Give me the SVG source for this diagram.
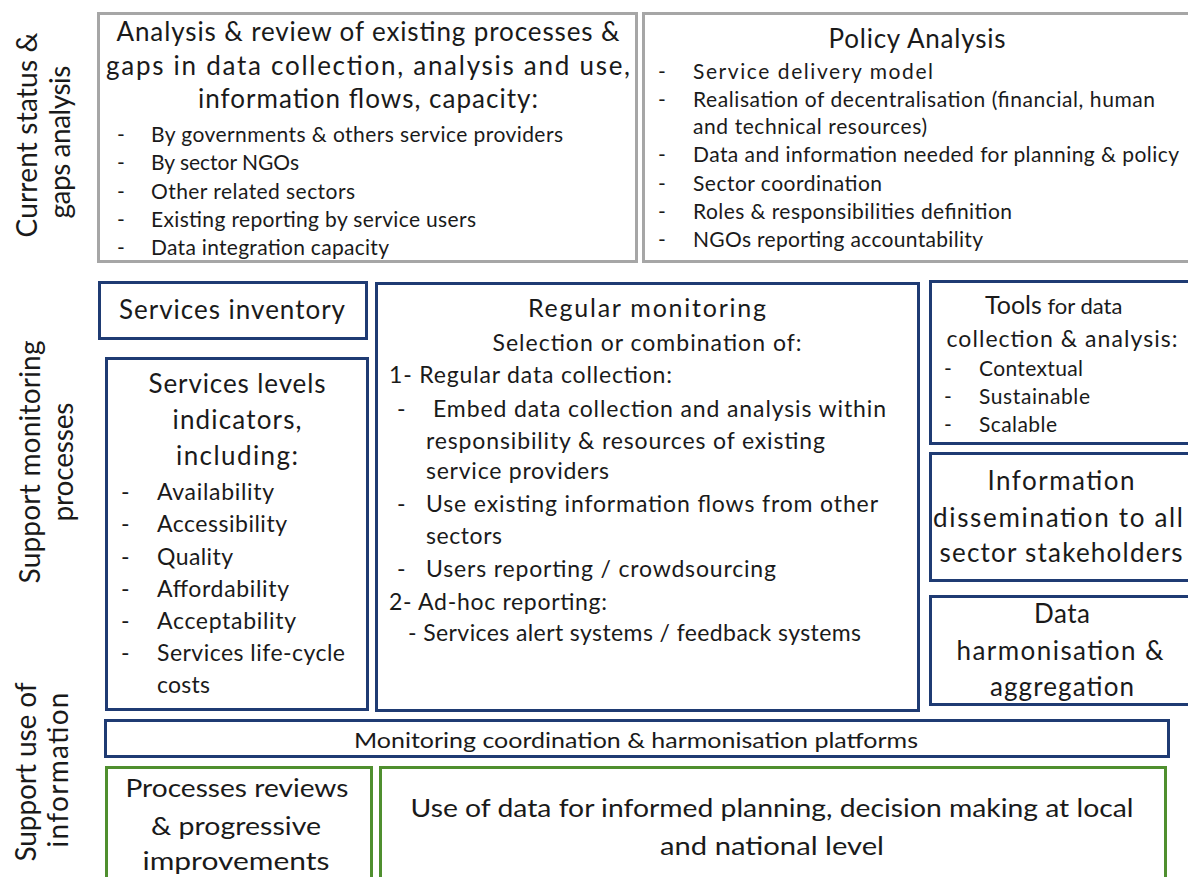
<svg xmlns="http://www.w3.org/2000/svg" width="1188" height="877" viewBox="0 0 1188 877">
<style>
text{font-family:Lato,"Liberation Sans",sans-serif;fill:#1a1a1a}
.gray{fill:#fff;stroke:#a6a6a6;stroke-width:3}
.navy{fill:#fff;stroke:#1f3b73;stroke-width:3}
.green{fill:#fff;stroke:#4f8f2f;stroke-width:3}
.c{text-anchor:middle}
.t28{font-size:28px}
.t26{font-size:26px}
.t25{font-size:25px}
.t24{font-size:24px}
.t23{font-size:23px}
.t22{font-size:22px}
.t21{font-size:21px}
</style>
<rect width="1188" height="877" fill="#fff"/>

<g id="row-labels" class="t28">
<text class="c" transform="translate(37,135) rotate(-90)" textLength="205">Current status &amp;</text>
<text class="c" transform="translate(70,142) rotate(-90)" textLength="153">gaps analysis</text>
<text class="c" transform="translate(40,462) rotate(-90)" textLength="243">Support monitoring</text>
<text class="c" transform="translate(73,462) rotate(-90)" textLength="119">processes</text>
<text class="c" transform="translate(36,772) rotate(-90)" textLength="179">Support use of</text>
<text class="c" transform="translate(68,770) rotate(-90)" textLength="155">information</text>
</g>

<g id="gaps-analysis">
<rect class="gray" x="98.5" y="13.5" width="538" height="248"/>
<text class="c t26" x="368" y="41" textLength="503">Analysis &amp; review of existing processes &amp;</text>
<text class="c t26" x="368" y="75" textLength="524">gaps in data collection, analysis and use,</text>
<text class="c t26" x="368" y="108" textLength="340">information flows, capacity:</text>
<g class="t21">
<text x="117" y="142">-</text><text x="151" y="142" textLength="412">By governments &amp; others service providers</text>
<text x="117" y="170">-</text><text x="151" y="170" textLength="148">By sector NGOs</text>
<text x="117" y="199">-</text><text x="151" y="199" textLength="204">Other related sectors</text>
<text x="117" y="227">-</text><text x="151" y="227" textLength="325">Existing reporting by service users</text>
<text x="117" y="255">-</text><text x="151" y="255" textLength="238">Data integration capacity</text>
</g>
</g>

<g id="policy-analysis">
<rect class="gray" x="643.5" y="13.5" width="550" height="248"/>
<text class="c t26" x="917" y="48" textLength="177">Policy Analysis</text>
<g class="t21">
<text x="658" y="79">-</text><text x="693" y="79" textLength="240">Service delivery model</text>
<text x="658" y="107">-</text><text x="693" y="107" textLength="462">Realisation of decentralisation (financial, human</text>
<text x="693" y="134" textLength="234">and technical resources)</text>
<text x="658" y="162">-</text><text x="693" y="162" textLength="486">Data and information needed for planning &amp; policy</text>
<text x="658" y="191">-</text><text x="693" y="191" textLength="189">Sector coordination</text>
<text x="658" y="219">-</text><text x="693" y="219" textLength="319">Roles &amp; responsibilities definition</text>
<text x="658" y="247">-</text><text x="693" y="247" textLength="290">NGOs reporting accountability</text>
</g>
</g>

<g id="services-inventory">
<rect class="navy" x="99.5" y="282.5" width="267" height="56"/>
<text class="c t26" x="232" y="319" textLength="226">Services inventory</text>
</g>

<g id="services-levels">
<rect class="navy" x="106.5" y="358.5" width="261" height="351"/>
<text class="c t26" x="237" y="393" textLength="177">Services levels</text>
<text class="c t26" x="237" y="429" textLength="129">indicators,</text>
<text class="c t26" x="237" y="465" textLength="122">including:</text>
<g class="t23">
<text x="121" y="500">-</text><text x="157" y="500" textLength="117">Availability</text>
<text x="121" y="532">-</text><text x="157" y="532" textLength="130">Accessibility</text>
<text x="121" y="565">-</text><text x="157" y="565" textLength="76">Quality</text>
<text x="121" y="597">-</text><text x="157" y="597" textLength="132">Affordability</text>
<text x="121" y="629">-</text><text x="157" y="629" textLength="139">Acceptability</text>
<text x="121" y="661">-</text><text x="157" y="661" textLength="188">Services life-cycle</text>
<text x="157" y="693" textLength="53">costs</text>
</g>
</g>

<g id="regular-monitoring">
<rect class="navy" x="376.5" y="283.5" width="542" height="427"/>
<text class="c t25" x="647" y="317" textLength="238">Regular monitoring</text>
<text class="c t23" x="647" y="351" textLength="309">Selection or combination of:</text>
<g class="t23">
<text x="389" y="383" textLength="283">1- Regular data collection:</text>
<text x="397" y="417">-</text><text x="433" y="417" textLength="453">Embed data collection and analysis within</text>
<text x="426" y="449" textLength="399">responsibility &amp; resources of existing</text>
<text x="426" y="479" textLength="183">service providers</text>
<text x="397" y="512">-</text><text x="426" y="512" textLength="452">Use existing information flows from other</text>
<text x="426" y="544" textLength="76">sectors</text>
<text x="397" y="577">-</text><text x="426" y="577" textLength="350">Users reporting / crowdsourcing</text>
<text x="389" y="610" textLength="218">2- Ad-hoc reporting:</text>
<text x="408" y="641" textLength="453">- Services alert systems / feedback systems</text>
</g>
</g>

<g id="tools">
<rect class="navy" x="930.5" y="281.5" width="262" height="162"/>
<text x="985" y="314"><tspan class="t25">Tools</tspan><tspan class="t22"> for data</tspan></text>
<text class="c t23" x="1062" y="347" textLength="231">collection &amp; analysis:</text>
<g class="t21">
<text x="944" y="376">-</text><text x="979" y="376" textLength="104">Contextual</text>
<text x="944" y="404">-</text><text x="979" y="404" textLength="111">Sustainable</text>
<text x="944" y="432">-</text><text x="979" y="432" textLength="78">Scalable</text>
</g>
</g>

<g id="information-dissemination">
<rect class="navy" x="930.5" y="453.5" width="262" height="127"/>
<text class="c t26" x="1061" y="490" textLength="147">Information</text>
<text class="c t26" x="1058" y="527" textLength="250">dissemination to all</text>
<text class="c t26" x="1061" y="562" textLength="243">sector stakeholders</text>
</g>

<g id="data-harmonisation">
<rect class="navy" x="930.5" y="596.5" width="262" height="108"/>
<text class="c t26" x="1062" y="623" textLength="56">Data</text>
<text class="c t26" x="1060" y="660" textLength="207">harmonisation &amp;</text>
<text class="c t26" x="1062" y="696" textLength="144">aggregation</text>
</g>

<g id="coordination-platforms">
<rect class="navy" x="105.5" y="720.5" width="1063" height="36"/>
<text class="c t22" x="636" y="748" textLength="564" lengthAdjust="spacingAndGlyphs">Monitoring coordination &amp; harmonisation platforms</text>
</g>

<g id="processes-reviews">
<rect class="green" x="106.5" y="767.5" width="265" height="115"/>
<text class="c t25" x="237" y="797" textLength="223" lengthAdjust="spacingAndGlyphs">Processes reviews</text>
<text class="c t25" x="236" y="835" textLength="170" lengthAdjust="spacingAndGlyphs">&amp; progressive</text>
<text class="c t25" x="236" y="870" textLength="187" lengthAdjust="spacingAndGlyphs">improvements</text>
</g>

<g id="use-of-data">
<rect class="green" x="380.5" y="767.5" width="785" height="115"/>
<text class="c t25" x="772" y="817" textLength="723" lengthAdjust="spacingAndGlyphs">Use of data for informed planning, decision making at local</text>
<text class="c t25" x="772" y="855" textLength="224" lengthAdjust="spacingAndGlyphs">and national level</text>
</g>

<g id="connectors"/>
</svg>
